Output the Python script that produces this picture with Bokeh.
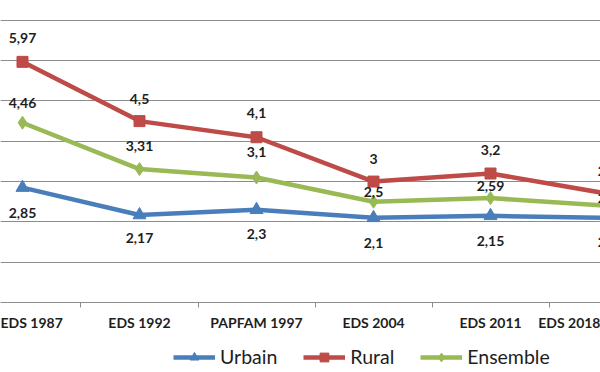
from bokeh.plotting import figure
from bokeh.layouts import column
from bokeh.models import ColumnDataSource, FixedTicker, Legend, LegendItem, Range1d
from bokeh.embed import file_html
from bokeh.resources import INLINE
from bokeh.core.properties import value

categories = ["EDS 1987", "EDS 1992", "PAPFAM 1997", "EDS 2004", "EDS 2011", "EDS 2018"]
urbain = [2.85, 2.17, 2.3, 2.1, 2.15, 2.1]
rural = [5.97, 4.5, 4.1, 3.0, 3.2, 2.7]
ensemble = [4.46, 3.31, 3.1, 2.5, 2.59, 2.4]
y_ticks = [1, 2, 3, 4, 5, 6, 7]

# data-label offsets in screen pixels (negative = above the point)
urbain_dy = [25, 23, 24, 25, 25, 24]
rural_dy = [-24, -22, -24, -23, -24, -23]
ensemble_dy = [-20, -23, -26, -10, -12, -8]

x = list(range(len(categories)))


def fmt(v):
    return f"{v:g}".replace(".", ",")


p = figure(width=600, height=340, output_backend="svg", toolbar_location=None,
           x_range=Range1d(-0.188, 4.940), y_range=Range1d(0, 7.492),
           y_axis_location=None, min_border_left=0, min_border_right=0,
           min_border_top=0, min_border_bottom=38)
p.outline_line_color = None
p.xgrid.visible = False
p.ygrid.ticker = FixedTicker(ticks=y_ticks)
p.ygrid.grid_line_color = "#8c8c8c"
p.ygrid.grid_line_width = 1

# the last category sits just past the right edge: its label is pinned at the edge
last = len(categories) - 1
last_pos = last - 0.068
tick_pos = x[:-1] + [last_pos]
overrides = {i: c for i, c in enumerate(categories[:-1])}
overrides[last_pos] = categories[-1]

ax = p.xaxis[0]
ax.ticker = FixedTicker(ticks=tick_pos, minor_ticks=[i - 0.5 for i in range(len(categories) + 1)])
ax.major_label_overrides = overrides
ax.major_tick_line_color = None
ax.major_tick_out = 5
ax.major_tick_in = 0
ax.minor_tick_line_color = "#8c8c8c"
ax.minor_tick_out = 5
ax.minor_tick_in = 0
ax.axis_line_color = "#8c8c8c"
ax.major_label_standoff = 6
ax.major_label_text_font = "Lato"
ax.major_label_text_font_style = "bold"
ax.major_label_text_font_size = "14px"
ax.major_label_text_color = "#1e1e1e"

series = [
    ("Urbain", urbain, urbain_dy, "#4A7EBB", "triangle", 13),
    ("Rural", rural, rural_dy, "#BE4B48", "square", 11),
    ("Ensemble", ensemble, ensemble_dy, "#98B954", "diamond", 13),
]

sources = []
for name, vals, dys, color, marker, size in series:
    src = ColumnDataSource(dict(x=x, y=vals, label=[fmt(v) for v in vals], dy=dys))
    sources.append(src)
    p.line("x", "y", source=src, line_color=color, line_width=4.5)
    p.scatter("x", "y", source=src, marker=marker, size=size,
              fill_color=color, line_color=color)

for src in sources:
    p.text("x", "y", text="label", source=src, y_offset="dy",
           text_align="center", text_baseline="middle",
           text_font=value("Lato"), text_font_style="bold",
           text_font_size="14px", text_color="#1e1e1e")

# legend strip below the chart; its renderers use the same data, which lies
# outside this strip's y-range, so only the legend itself is visible
q = figure(width=600, height=32, output_backend="svg", toolbar_location=None,
           x_range=Range1d(0, 1), y_range=Range1d(0, 1),
           x_axis_location=None, y_axis_location=None,
           min_border_left=0, min_border_right=0, min_border_top=0, min_border_bottom=0)
q.outline_line_color = None
q.xgrid.visible = False
q.ygrid.visible = False

items = []
for (name, vals, dys, color, marker, size), src in zip(series, sources):
    lr = q.line("x", "y", source=src, line_color=color, line_width=4.5)
    sr = q.scatter("x", "y", source=src, marker=marker, size=size,
                   fill_color=color, line_color=color)
    items.append(LegendItem(label=name, renderers=[lr, sr]))

legend = Legend(items=items, orientation="horizontal", location=(173, 4),
                label_text_font="Lato", label_text_font_size="19.5px",
                label_text_color="#1e1e1e", label_height=22,
                glyph_width=42, glyph_height=22, label_standoff=5, spacing=26,
                padding=0, margin=0, border_line_color=None,
                background_fill_alpha=0)
q.add_layout(legend, "center")

layout = column(p, q, spacing=0)
open("out.html", "w").write(file_html(layout, INLINE))
